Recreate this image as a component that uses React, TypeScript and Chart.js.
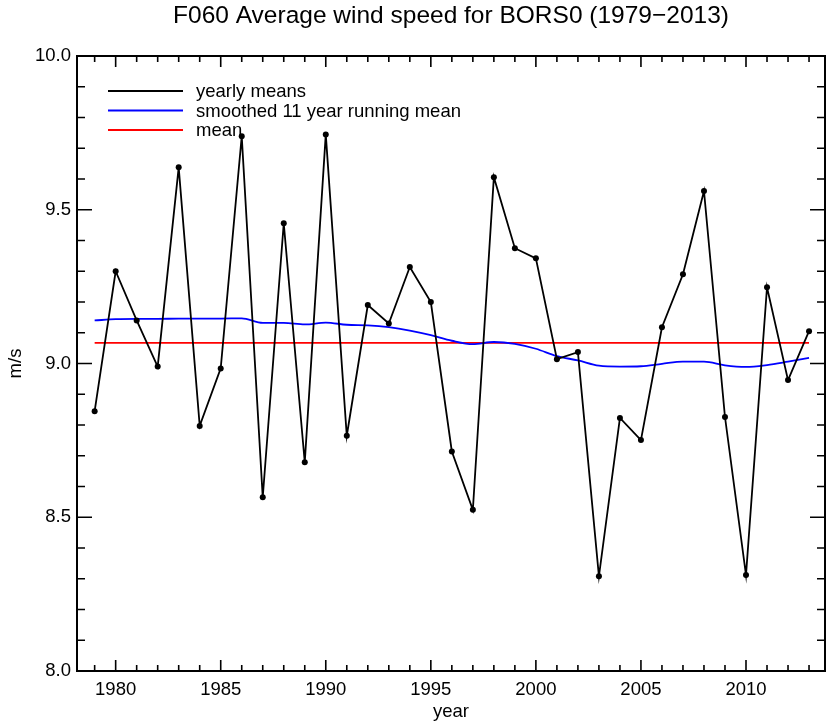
import React, { useEffect, useRef } from "react";
import { Chart, registerables } from "chart.js";

Chart.register(...registerables);

const years = [
  1979, 1980, 1981, 1982, 1983, 1984, 1985, 1986, 1987, 1988, 1989, 1990,
  1991, 1992, 1993, 1994, 1995, 1996, 1997, 1998, 1999, 2000, 2001, 2002,
  2003, 2004, 2005, 2006, 2007, 2008, 2009, 2010, 2011, 2012, 2013,
];
const yearlyMeans = [
  8.845, 9.3, 9.14, 8.99, 9.638, 8.797, 8.984, 9.739, 8.565, 9.456, 8.679, 9.745,
  8.765, 9.19, 9.13, 9.314, 9.2, 8.714, 8.524, 9.606, 9.375, 9.342, 9.014, 9.037,
  8.308, 8.823, 8.751, 9.118, 9.29, 9.561, 8.826, 8.312, 9.248, 8.946, 9.105,
];
const smoothed = [
  9.14, 9.144, 9.145, 9.145, 9.146, 9.146, 9.146, 9.147, 9.132, 9.132, 9.127, 9.133,
  9.126, 9.124, 9.118, 9.107, 9.092, 9.074, 9.063, 9.07, 9.064, 9.048, 9.024, 9.01,
  8.993, 8.99, 8.991, 8.999, 9.006, 9.006, 8.994, 8.989, 8.995, 9.006, 9.018,
];
const overallMean = 9.067;
const xTickYears = [1980, 1985, 1990, 1995, 2000, 2005, 2010];
const yTickValues = [8.0, 8.5, 9.0, 9.5, 10.0];
const seriesLabels = ["yearly means", "smoothed 11 year running mean", "mean"];
const seriesColors = ["#000000", "#0000ff", "#ff0000"];
const titleText = "F060 Average wind speed for BORS0 (1979\u22122013)";

const FONT = "'Liberation Sans', Helvetica, Arial, sans-serif";

const boxTicksPlugin = {
  id: "boxTicks",
  afterDatasetsDraw(chart: any) {
    const { ctx, chartArea } = chart;
    const xs = chart.scales.x;
    const ys = chart.scales.y;
    const { left, right, top, bottom } = chartArea;
    ctx.save();
    ctx.strokeStyle = "#000";
    ctx.lineWidth = 2;
    ctx.beginPath();
    ctx.rect(left, top, right - left, bottom - top);
    ctx.stroke();
    ctx.lineWidth = 1.6;
    ctx.beginPath();
    for (let yr = 1979; yr <= 2013; yr++) {
      const px = xs.getPixelForValue(yr);
      const len = yr % 5 === 0 ? 11 : 6;
      ctx.moveTo(px, bottom);
      ctx.lineTo(px, bottom - len);
      ctx.moveTo(px, top);
      ctx.lineTo(px, top + len);
    }
    for (let i = 1; i < 20; i++) {
      const v = 8 + i * 0.1;
      const py = ys.getPixelForValue(v);
      const len = i % 5 === 0 ? 15 : 8;
      ctx.moveTo(left, py);
      ctx.lineTo(left + len, py);
      ctx.moveTo(right, py);
      ctx.lineTo(right - len, py);
    }
    ctx.stroke();

    // title, centred over the plot area
    ctx.fillStyle = "#000";
    ctx.font = `24.5px ${FONT}`;
    ctx.textAlign = "center";
    ctx.textBaseline = "alphabetic";
    ctx.fillText(titleText, (left + right) / 2, 23);

    // legend
    const lx0 = left + 31;
    const lx1 = left + 106;
    const ly0 = top + 35;
    const dy = 19.5;
    ctx.font = `18.5px ${FONT}`;
    ctx.textBaseline = "middle";
    ctx.textAlign = "left";
    chart.data.datasets.forEach((ds: any, i: number) => {
      const y = ly0 + i * dy;
      ctx.strokeStyle = ds.borderColor;
      ctx.lineWidth = 1.8;
      ctx.beginPath();
      ctx.moveTo(lx0, y);
      ctx.lineTo(lx1, y);
      ctx.stroke();
      ctx.fillStyle = "#000";
      ctx.fillText(ds.label, lx1 + 13, y + 1);
    });
    ctx.restore();
  },
};

export default function App() {
  const ref = useRef<HTMLCanvasElement>(null);
  useEffect(() => {
    if (!ref.current) return;
    const chart = new Chart(ref.current, {
      type: "line",
      data: {
        datasets: [
          {
            label: seriesLabels[0],
            data: years.map((x, i) => ({ x, y: yearlyMeans[i] })),
            borderColor: seriesColors[0],
            backgroundColor: seriesColors[0],
            borderWidth: 1.8,
            pointRadius: 3,
            pointBorderWidth: 0,
            tension: 0,
            order: 1,
          },
          {
            label: seriesLabels[1],
            data: years.map((x, i) => ({ x, y: smoothed[i] })),
            borderColor: seriesColors[1],
            borderWidth: 1.8,
            pointRadius: 0,
            cubicInterpolationMode: "monotone",
            order: 2,
          },
          {
            label: seriesLabels[2],
            data: years.map((x) => ({ x, y: overallMean })),
            borderColor: seriesColors[2],
            borderWidth: 1.8,
            pointRadius: 0,
            order: 3,
          },
        ],
      },
      options: {
        animation: false,
        responsive: false,
        maintainAspectRatio: false,
        layout: { padding: { top: 56, right: 5, bottom: 0, left: 0 } },
        plugins: {
          legend: { display: false },
          tooltip: { enabled: false },
          title: { display: false },
        },
        scales: {
          x: {
            type: "linear",
            min: 1978.16,
            max: 2013.76,
            grid: { display: false, drawTicks: false },
            border: { display: false },
            afterBuildTicks: (scale: any) => {
              scale.ticks = xTickYears.map((v) => ({ value: v }));
            },
            afterFit: (scale: any) => {
              scale.height = 55;
            },
            ticks: {
              color: "#000",
              padding: 8,
              maxRotation: 0,
              font: { family: FONT, size: 18.5 },
              callback: (v: any) => String(v),
            },
            title: {
              display: true,
              text: "year",
              color: "#000",
              font: { family: FONT, size: 18.5 },
              padding: { top: 0, bottom: 3 },
            },
          },
          y: {
            type: "linear",
            min: 8,
            max: 10,
            grid: { display: false, drawTicks: false },
            border: { display: false },
            afterBuildTicks: (scale: any) => {
              scale.ticks = yTickValues.map((v) => ({ value: v }));
            },
            afterFit: (scale: any) => {
              scale.width = 77;
            },
            ticks: {
              color: "#000",
              padding: 6,
              font: { family: FONT, size: 18.5 },
              callback: (v: any) => Number(v).toFixed(1),
            },
            title: {
              display: true,
              text: "m/s",
              color: "#000",
              font: { family: FONT, size: 18.5 },
              padding: { top: 5, bottom: 0 },
            },
          },
        },
      },
      plugins: [boxTicksPlugin],
    } as any);
    return () => chart.destroy();
  }, []);
  return (
    <div style={{ position: "absolute", left: 0, top: 0, width: 830, height: 726, background: "#fff" }}>
      <canvas ref={ref} width={830} height={726} style={{ width: 830, height: 726 }} />
    </div>
  );
}
